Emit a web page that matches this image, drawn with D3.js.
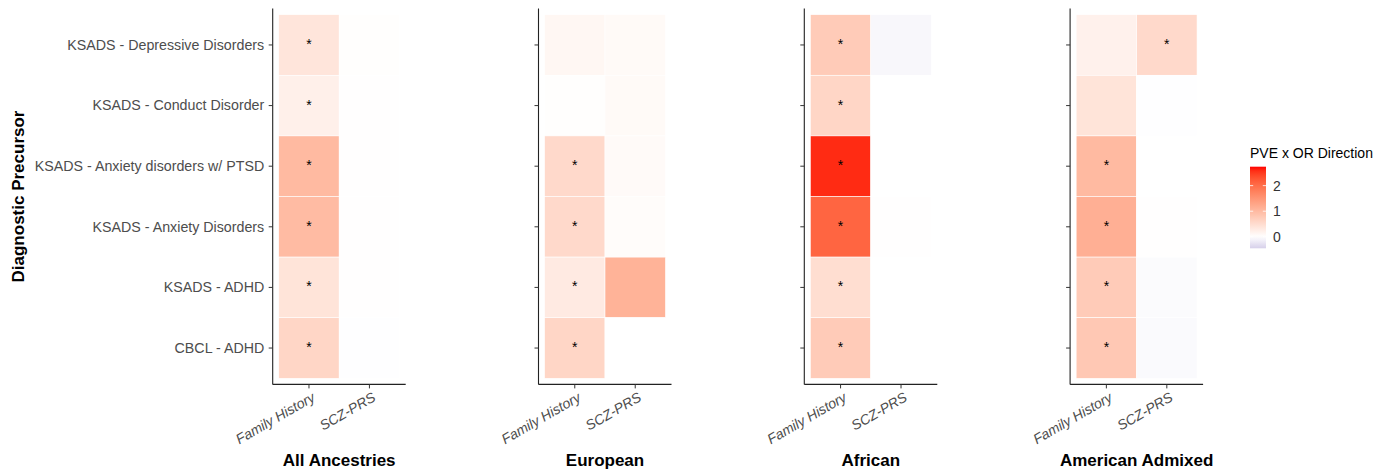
<!DOCTYPE html>
<html lang="en">
<head>
<meta charset="utf-8">
<title>PVE heatmap</title>
<script src="https://d3js.org/d3.v7.min.js"></script>
<style>
  body { margin: 0; background: #fff; }
  text { font-family: Helvetica, "Liberation Sans", Arial, sans-serif; }
  .ytick { font-size: 15px; fill: #4d4d4d; }
  .xtick { font-size: 14px; fill: #4d4d4d; font-style: italic; }
  .ptitle { font-size: 17px; font-weight: bold; fill: #000; }
  .ylab { font-size: 17px; font-weight: bold; fill: #000; }
  .star { font-size: 14px; fill: #000; }
  .legtitle { font-size: 14px; fill: #000; }
  .legtext { font-size: 14px; fill: #333; }
</style>
</head>
<body>
<div id="main"></div>
<script>
var width = 1394, height = 475;

// categories
var ancestries = ["All Ancestries", "European", "African", "American Admixed"];
var predictors = ["Family History", "SCZ-PRS"];
var outcomes = ["KSADS - Depressive Disorders", "KSADS - Conduct Disorder",
  "KSADS - Anxiety disorders w/ PTSD", "KSADS - Anxiety Disorders",
  "KSADS - ADHD", "CBCL - ADHD"];

// PVE x OR direction, rows follow outcomes, [Family History, SCZ-PRS]
var allValues = [[0.38, 0.02], [0.22, 0.01], [1.0, 0.01], [0.98, 0.01], [0.4, 0.01], [0.6, -0.01]];
var eurValues = [[0.12, 0.08], [0.02, 0.08], [0.55, 0.07], [0.55, 0.05], [0.3, 1.1], [0.6, 0.0]];
var afrValues = [[0.75, -0.08], [0.6, 0.0], [2.6, 0.0], [2.1, 0.01], [0.48, 0.0], [0.75, 0.0]];
var amrValues = [[0.2, 0.55], [0.4, -0.01], [1.0, 0.0], [1.15, 0.01], [0.75, -0.04], [0.8, -0.05]];

// significance flags (1 = "*")
var allSig = [[1, 0], [1, 0], [1, 0], [1, 0], [1, 0], [1, 0]];
var eurSig = [[0, 0], [0, 0], [1, 0], [1, 0], [1, 0], [1, 0]];
var afrSig = [[1, 0], [1, 0], [1, 0], [1, 0], [1, 0], [1, 0]];
var amrSig = [[0, 1], [0, 0], [1, 0], [1, 0], [1, 0], [1, 0]];

var legendTicks = [0, 1, 2];
var fillDomain = [-0.45, 0, 2.74];

var valueSets = [allValues, eurValues, afrValues, amrValues];
var sigSets = [allSig, eurSig, afrSig, amrSig];

var cells = [];
ancestries.forEach(function(a, k) {
  outcomes.forEach(function(o, i) {
    predictors.forEach(function(p, j) {
      cells.push({ancestry: a, outcome: o, predictor: p,
        value: valueSets[k][i][j], sig: sigSets[k][i][j]});
    });
  });
});

var svg = d3.select("#main").append("svg")
  .attr("width", width).attr("height", height);

var color = d3.scaleLinear()
  .domain(fillDomain)
  .range(["#d6d0ea", "#ffffff", "#ff0000"])
  .interpolate(d3.interpolateLab);

var panelW = 133;
var panel = d3.scaleBand().domain(ancestries).range([272.7, 272.7 + 4 * 265.8]);
var x = d3.scaleBand().domain(predictors).range([0, panelW]).paddingOuter(0.1);
var y = d3.scaleBand().domain(outcomes).range([8.6, 384.4]).paddingOuter(0.1);
var yBottom = 384.4;

ancestries.forEach(function(a, k) {
  var g = svg.append("g").attr("transform", "translate(" + panel(a) + ",0)");
  var data = cells.filter(function(d) { return d.ancestry === a; });

  g.selectAll("rect.cell").data(data).enter().append("rect")
    .attr("class", "cell")
    .attr("x", function(d) { return x(d.predictor); })
    .attr("y", function(d) { return y(d.outcome); })
    .attr("width", x.bandwidth())
    .attr("height", y.bandwidth())
    .attr("fill", function(d) { return color(d.value); })
    .attr("stroke", "#fff")
    .attr("stroke-width", 0.6);

  g.selectAll("text.star").data(data.filter(function(d) { return d.sig; })).enter()
    .append("text")
    .attr("class", "star")
    .attr("text-anchor", "middle")
    .attr("x", function(d) { return x(d.predictor) + x.bandwidth() / 2; })
    .attr("y", function(d) { return y(d.outcome) + y.bandwidth() / 2 + 4; })
    .text("*");

  // y axis
  var yAxis = d3.axisLeft(y).tickSize(4).tickPadding(4);
  if (k > 0) yAxis.tickFormat("");
  var ya = g.append("g").call(yAxis);
  ya.select(".domain").attr("stroke", "#222").attr("stroke-width", 1.1)
    .attr("d", "M0," + (8.6) + "V" + yBottom);
  ya.selectAll(".tick line").attr("stroke", "#333");
  ya.selectAll(".tick text").attr("class", "ytick").attr("font-size", null).attr("font-family", null)
    .attr("fill", null)
    .attr("x", -8.5 / 0.95)
    .attr("transform", "scale(0.95,1)");

  // x axis
  var xa = g.append("g").attr("transform", "translate(0," + yBottom + ")")
    .call(d3.axisBottom(x).tickSize(4).tickFormat(""));
  xa.select(".domain").attr("stroke", "#222").attr("stroke-width", 1.1)
    .attr("d", "M0,0H" + panelW);
  xa.selectAll(".tick line").attr("stroke", "#333");

  g.selectAll("text.xtick").data(predictors).enter().append("text")
    .attr("class", "xtick")
    .attr("text-anchor", "end")
    .attr("transform", function(p) {
      return "translate(" + (x(p) + x.bandwidth() / 2 + 2) + "," + (yBottom + 7) + ") rotate(-30)";
    })
    .attr("dy", "0.72em")
    .text(function(p) { return p; });

  g.append("text")
    .attr("class", "ptitle")
    .attr("text-anchor", "middle")
    .attr("x", panelW / 2)
    .attr("y", 466)
    .text(a);
});

svg.append("text")
  .attr("class", "ylab")
  .attr("text-anchor", "middle")
  .attr("transform", "translate(24," + ((8.6 + yBottom) / 2) + ") rotate(-90)")
  .text("Diagnostic Precursor");

// legend
var legX = 1250, legTop = 166.7, legBot = 248.3, legW = 16;
var ly = d3.scaleLinear().domain([fillDomain[0], fillDomain[2]]).range([legBot, legTop]);

var grad = svg.append("defs").append("linearGradient")
  .attr("id", "legGrad").attr("x1", 0).attr("y1", 1).attr("x2", 0).attr("y2", 0);
d3.range(0, 1.0001, 0.05).forEach(function(t) {
  var v = fillDomain[0] + t * (fillDomain[2] - fillDomain[0]);
  grad.append("stop").attr("offset", t).attr("stop-color", color(v));
});

svg.append("text").attr("class", "legtitle")
  .attr("x", legX).attr("y", 157.5).text("PVE x OR Direction");

svg.append("rect")
  .attr("x", legX).attr("y", legTop)
  .attr("width", legW).attr("height", legBot - legTop)
  .attr("fill", "url(#legGrad)");

var lt = svg.selectAll("g.legtick").data(legendTicks).enter().append("g").attr("class", "legtick");
lt.append("line")
  .attr("x1", legX).attr("x2", legX + 3.2)
  .attr("y1", function(d) { return ly(d); }).attr("y2", function(d) { return ly(d); })
  .attr("stroke", "#fff").attr("stroke-width", 0.8);
lt.append("line")
  .attr("x1", legX + legW - 3.2).attr("x2", legX + legW)
  .attr("y1", function(d) { return ly(d); }).attr("y2", function(d) { return ly(d); })
  .attr("stroke", "#fff").attr("stroke-width", 0.8);
lt.append("text").attr("class", "legtext")
  .attr("x", legX + legW + 7)
  .attr("y", function(d) { return ly(d); })
  .attr("dy", "0.36em")
  .text(function(d) { return d; });
</script>
</body>
</html>
